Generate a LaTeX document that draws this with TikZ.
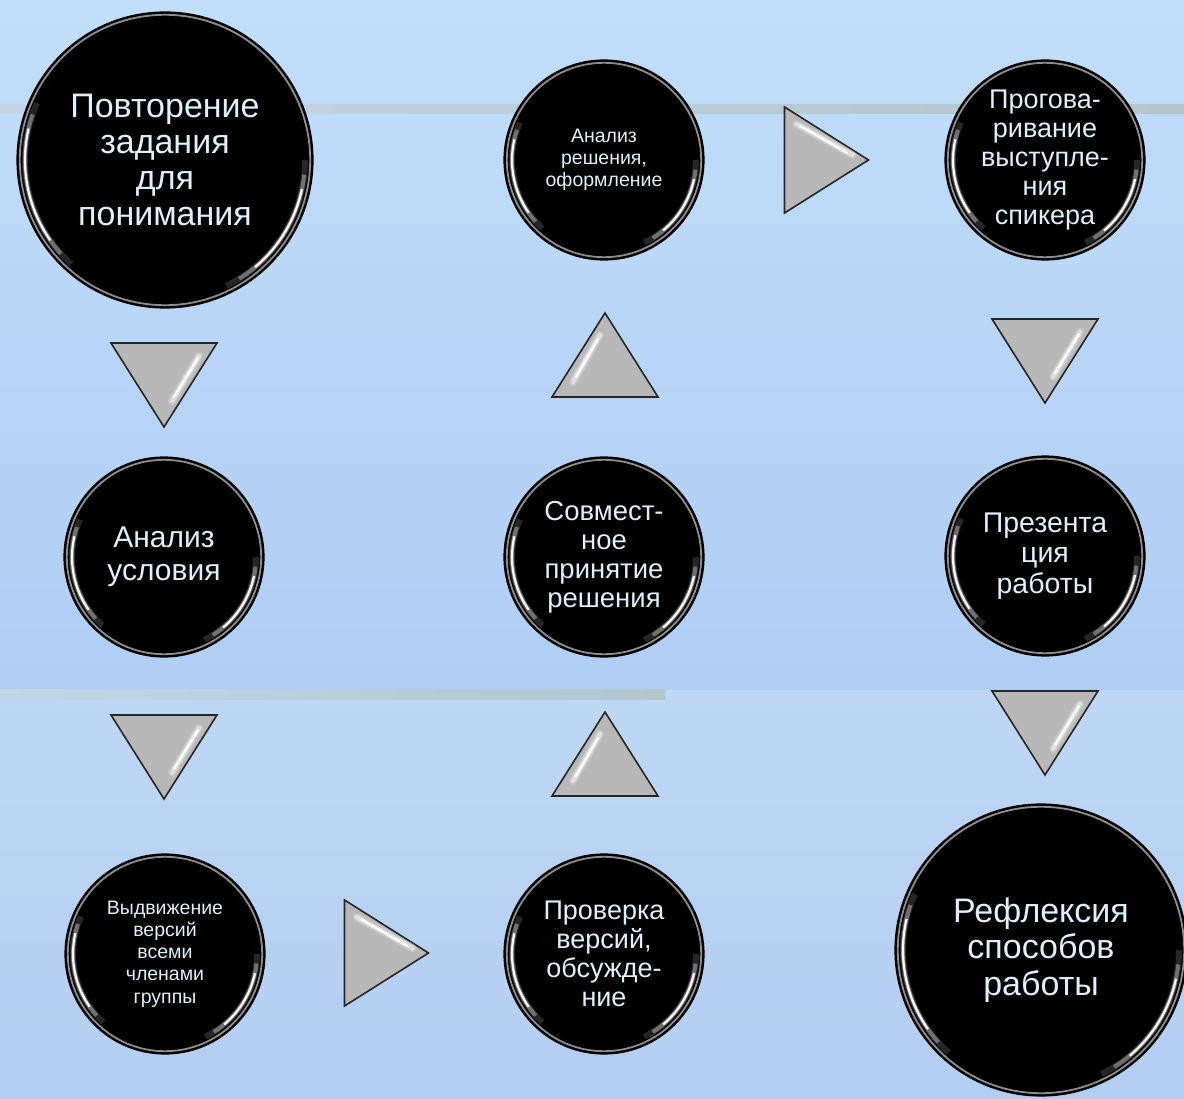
\documentclass[tikz,border=0pt]{standalone}
\usepackage{fontspec}
\setmainfont{Liberation Sans}
\setsansfont{Liberation Sans}
\definecolor{bgA}{RGB}{193,222,250}
\definecolor{bgB}{RGB}{176,205,244}
\definecolor{bgC}{RGB}{190,215,244}
\definecolor{bgD}{RGB}{180,206,242}
\definecolor{bandL}{RGB}{194,214,232}
\definecolor{bandR}{RGB}{178,198,204}
\definecolor{txt}{RGB}{222,240,250}
\definecolor{trifill}{RGB}{184,184,184}
\newcommand\fsz[2]{\fontsize{#1}{#2}\selectfont}
\tikzset{
  bub/.style={circle, fill=black, draw=black, line width=1.2pt, minimum size=#1, inner sep=0pt, align=center, text=txt},
  tri/.style={fill=trifill, draw=black!85, line width=1.6pt, line join=miter},
  gloss/.style={white, line cap=butt},
  glossr/.style={white, line cap=round},
}
% one highlight arc: node, radius, start, end, width, opacity
\newcommand\hlarc[6]{%
  \draw[gloss, line width=#5, opacity=#6] ([shift={(#3:#2pt-8pt)}]#1.center) arc[start angle=#3, end angle=#4, radius=#2pt-8pt];
}
% circle rim and highlights: node name, radius (pt number)
\newcommand\shine[2]{%
  \draw[gray!60, line width=1.8pt, opacity=.8] (#1.center) circle[radius=#2pt-2.8pt];
  \hlarc{#1}{#2}{156}{228}{6pt}{.15}
  \hlarc{#1}{#2}{161}{222}{4pt}{.35}
  \hlarc{#1}{#2}{167}{215}{2.2pt}{.95}
  \hlarc{#1}{#2}{-64}{0}{6pt}{.15}
  \hlarc{#1}{#2}{-58}{-6}{4pt}{.35}
  \hlarc{#1}{#2}{-50}{-12}{2.2pt}{.95}
}
\newcommand\tridown[1]{%
  \filldraw[tri] ([shift={(-53,-42)}]#1) -- ([shift={(53,-42)}]#1) -- ([shift={(0,42)}]#1) -- cycle;
  \draw[glossr, line width=8pt, opacity=.2] ([shift={(35,-29)}]#1) -- ([shift={(8,16)}]#1);
  \draw[glossr, line width=4.5pt, opacity=.45] ([shift={(35,-29)}]#1) -- ([shift={(8,16)}]#1);
  \draw[glossr, line width=2pt, opacity=.95] ([shift={(34,-27)}]#1) -- ([shift={(10,12)}]#1);
}
\newcommand\triup[1]{%
  \filldraw[tri] ([shift={(-53,42)}]#1) -- ([shift={(53,42)}]#1) -- ([shift={(0,-42)}]#1) -- cycle;
  \draw[glossr, line width=8pt, opacity=.2] ([shift={(-5,-20)}]#1) -- ([shift={(-32,27)}]#1);
  \draw[glossr, line width=4.5pt, opacity=.45] ([shift={(-5,-20)}]#1) -- ([shift={(-32,27)}]#1);
  \draw[glossr, line width=2pt, opacity=.95] ([shift={(-7,-16)}]#1) -- ([shift={(-29,22)}]#1);
}
\newcommand\triright[1]{%
  \filldraw[tri] ([shift={(-42,-53)}]#1) -- ([shift={(-42,53)}]#1) -- ([shift={(42,0)}]#1) -- cycle;
  \draw[glossr, line width=8pt, opacity=.2] ([shift={(-30,-36)}]#1) -- ([shift={(26,-5)}]#1);
  \draw[glossr, line width=4.5pt, opacity=.45] ([shift={(-30,-36)}]#1) -- ([shift={(26,-5)}]#1);
  \draw[glossr, line width=2pt, opacity=.95] ([shift={(-26,-34)}]#1) -- ([shift={(21,-7)}]#1);
}
\begin{document}
\begin{tikzpicture}[x=1pt, y=-1pt]
\useasboundingbox (0,0) rectangle (1184,1099);
% background
\shade[top color=bgA, bottom color=bgB] (0,0) rectangle (1184,690);
\shade[top color=bgC, bottom color=bgD] (0,690) rectangle (1184,1099);
% bands
\shade[left color=bandL, right color=bandR] (0,105) rectangle (1184,114);
\shade[left color=bandL, right color=bandR] (0,689) rectangle (665,699);
% arrow triangles
\coordinate (t1) at (164,385);
\coordinate (t2) at (605,355);
\coordinate (t3) at (826.5,160);
\coordinate (t4) at (1045,361);
\coordinate (t5) at (164,757);
\coordinate (t6) at (605,754);
\coordinate (t7) at (386.5,953);
\coordinate (t8) at (1045,733);
\tridown{t1}
\triup{t2}
\triright{t3}
\tridown{t4}
\tridown{t5}
\triup{t6}
\triright{t7}
\tridown{t8}
% circles
\node[bub=296pt, font=\fsz{34}{36}] (c1) at (165,160) {Повторение\\задания\\для\\понимания};
\shine{c1}{148}
\node[bub=200pt, font=\fsz{19.5}{22}] (c2) at (604,160) {Анализ\\решения,\\оформление};
\shine{c2}{100}
\node[bub=200pt, font=\fsz{27}{29}] (c3) at (1045,160) {Прогова-\\ривание\\выступле-\\ния\\спикера};
\shine{c3}{100}
\node[bub=200pt, font=\fsz{30}{33}] (c4) at (164,557) {Анализ\\условия};
\shine{c4}{100}
\node[bub=200pt, font=\fsz{27.5}{29}] (c5) at (604,557) {Совмест-\\ное\\принятие\\решения};
\shine{c5}{100}
\node[bub=200pt, font=\fsz{28.5}{30.5}] (c6) at (1045,556) {Презента\\ция\\работы};
\shine{c6}{100}
\node[bub=200pt, font=\fsz{19.5}{22.3}] (c7) at (165,954) {Выдвижение\\версий\\всеми\\членами\\группы};
\shine{c7}{100}
\node[bub=200pt, font=\fsz{27}{29}] (c8) at (604,954) {Проверка\\версий,\\обсужде-\\ние};
\shine{c8}{100}
\node[bub=292pt, font=\fsz{34}{36.5}] (c9) at (1041,950) {Рефлексия\\способов\\работы};
\shine{c9}{146}
\end{tikzpicture}
\end{document}
